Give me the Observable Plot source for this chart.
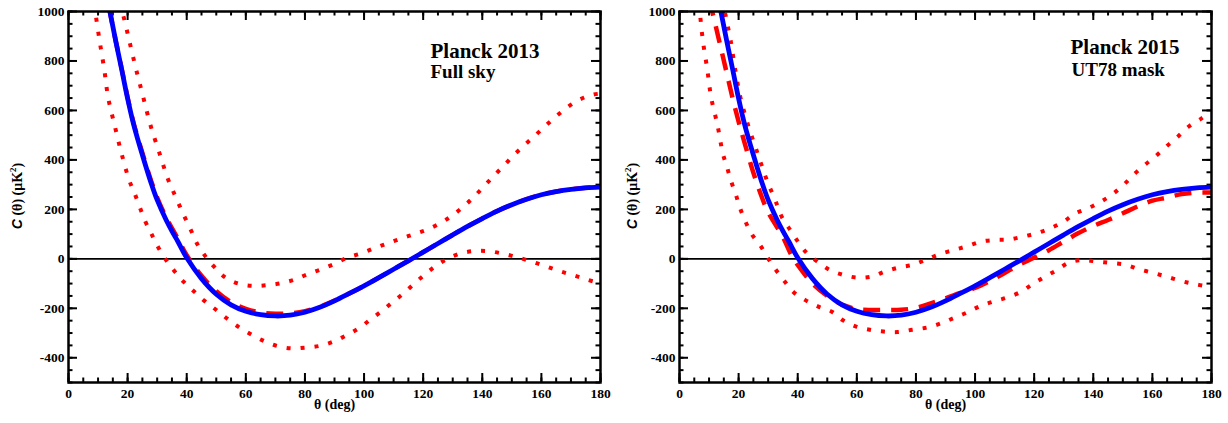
<!DOCTYPE html>
<html><head><meta charset="utf-8">
<script src="https://cdn.jsdelivr.net/npm/d3@7"></script>
<script src="https://cdn.jsdelivr.net/npm/@observablehq/plot@0.6"></script>
<style>
body{margin:0;background:#fff;}
#wrap{position:relative;width:1228px;height:423px;overflow:hidden;}
#p1{position:absolute;left:0;top:0;}
#wrap svg text{font-family:'Liberation Serif','Times New Roman',serif;font-weight:bold;}
.ylab{position:absolute;top:196px;transform:translate(-50%,-50%) rotate(-90deg);white-space:nowrap;
  font-family:'Liberation Serif','Times New Roman',serif;font-weight:bold;font-size:14px;line-height:14px;color:#000;z-index:2;}
.ylab .c{font-family:'Liberation Sans',Arial,sans-serif;font-style:italic;}
.ylab sup{font-size:9px;line-height:0;vertical-align:6px;}
</style></head><body>
<div id="wrap"><div id="p1"></div>
<div class="ylab" id="yl1" style="left:17px"></div>
<div class="ylab" id="yl2" style="left:632px"></div>
</div>
<script>
// ---- data ----
const xTicks = [0,20,40,60,80,100,120,140,160,180];
const yTicks = [-400,-200,0,200,400,600,800,1000];
const panelTitles = ["Planck 2013","Planck 2015"];
const panelSubtitles = ["Full sky","UT78 mask"];
const xLabel = "θ (deg)";
const yLabelHTML = '<span class="c">C</span> (θ) (μK<sup>2</sup>)';

// blue solid (same in both panels)
const theoryTheta = [12,14,16,18,20,22,25,28,30,33,35,37,40,45,50,55,60,65,70,75,80,85,90,95,100,105,110,115,120,125,130,135,140,145,150,155,160,165,170,175,180];
const theoryC = [1130,1000,880,765,648,545,420,305,238,158,112,70,4,-80,-143,-186,-212,-226,-231,-228,-216,-196,-170,-140,-109,-76,-42,-8,27,62,97,131,163,193,219,241,259,272,281,287,290];

// red dashed, Planck 2013
const dashed2013Theta = [12,14,16,18,20,22,25,28,30,33,35,37,40,45,50,55,60,65,70,75,80,85,90,95,100,105,110,115,120,125,130,135,140,145,150,155,160,165,170,175,180];
const dashed2013C = [1130,1000,880,768,652,550,428,314,248,168,124,82,15,-68,-131,-175,-202,-217,-222,-221,-212,-194,-169,-140,-109,-76,-42,-8,27,62,97,131,163,193,219,241,259,272,281,287,290];

// red dashed, Planck 2015
const dashed2015Theta = [10,12,14,16,18,20,22,25,28,30,33,35,38,40,45,50,55,60,65,70,75,80,85,90,95,100,105,110,115,120,125,130,135,140,145,150,155,160,165,170,175,180];
const dashed2015C = [1050,954,852,750,648,555,470,348,245,188,128,88,12,-25,-100,-150,-185,-203,-207,-207,-206,-198,-180,-160,-138,-118,-90,-57,-24,5,35,70,104,133,157,184,212,235,248,262,268,268];

// red dotted bounds, Planck 2013
const upper2013Theta = [16,18.7,20.6,22.9,25.3,27.7,30.7,33.7,35.6,38.5,41.6,43.7,46.4,49.5,53.1,57.4,62.1,66.9,71.7,76.5,81,85.6,90.1,94.4,99,103.5,108,112.5,117.2,121.7,126.2,130.2,134,137.3,140.8,144.2,147.5,150.9,154.5,158.1,161.6,165.2,168.9,173.1,177.5,180];
const upper2013C = [1090,976,880,765,653,542,430,321,268,190,111,57,9,-35,-76,-100,-109,-107,-99,-84,-62,-42,-20,5,22,43,63,82,101,120,147,178,215,252,296,339,379,422,462,501,540,578,614,645,664,668];
const lower2013Theta = [8.5,9.1,10.5,12.1,13.4,15.6,17.9,20.6,22.4,26,28.1,30.2,32.8,35.8,38.9,42.4,46,49.8,53.7,57.5,61.7,66.1,70.5,75.3,80.2,84.9,89.6,93.9,98.2,102.1,105.9,109.7,113.4,117.2,120.8,124.6,128.8,133.3,137.9,142.7,147.6,152.2,156.9,161.5,166.2,170.7,175.5,180];
const lower2013C = [1030,993,883,766,653,540,428,316,264,151,100,50,-1,-49,-92,-131,-170,-205,-242,-275,-305,-332,-352,-362,-359,-352,-335,-310,-281,-246,-212,-175,-139,-98,-61,-26,4,24,32,30,19,5,-12,-30,-50,-66,-84,-100];

// red dotted bounds, Planck 2015
const upper2015Theta = [14.5,16,17.3,18.9,20.6,23.1,26.2,29.4,33,34.7,37.5,40.3,43.2,47.1,51,55.5,60.2,65.1,69.6,74.2,79,83.3,88,92.6,97.3,101.8,106.5,111.4,116.2,121,125.5,129.8,133.8,138.3,142.7,146.6,150.4,153.9,157.6,161.3,164.9,168.6,172.2,176.4,180];
const upper2015C = [1050,960,883,761,653,545,434,323,219,167,116,66,22,-15,-46,-65,-76,-72,-51,-35,-24,-4,19,35,51,69,76,78,90,104,124,149,183,205,232,262,301,343,381,417,456,494,534,566,595];
const lower2015Theta = [6.5,6.9,7.9,9.4,10.7,12.9,14.7,16.1,17.4,19,20.4,22.3,24.6,27.4,29.9,32.7,35.6,38.7,42.6,47,51.4,55.3,59.8,64.4,69.1,73.8,78.7,83.7,88.2,92.7,97.3,101.6,106.1,110.7,115.4,119.4,123.5,127.6,131.8,136.4,141.3,146,151,155.5,160.3,164.8,169.6,174.2,179.2,180];
const lower2015C = [1030,993,883,766,653,538,424,370,316,262,208,151,97,53,3,-46,-92,-136,-167,-193,-213,-248,-274,-287,-294,-296,-287,-278,-262,-240,-217,-192,-173,-157,-134,-103,-73,-46,-15,-5,-11,-17,-24,-42,-57,-72,-89,-102,-113,-115];

// ---- drawing ----
const pts = (T, C) => T.map((t, i) => ({t, c: C[i]}));
const xMinor = d3.range(0, 181, 5);
const yMinor = d3.range(-500, 1001, 50);
const serif = "'Liberation Serif', 'Times New Roman', serif";
const W = 614, H = 423, MT = 11, MB = 41;
const tk = {stroke: "#000", strokeWidth: 2};

function panel(o) {
  const innerW = W - o.ml - o.mr, innerH = H - MT - MB;
  const xt = (data, len) => [
    Plot.tickX(data, {x: d => d, insetTop: innerH - len, ...tk}),
    Plot.tickX(data, {x: d => d, insetBottom: innerH - len, ...tk})
  ];
  const yt = (data, len) => [
    Plot.tickY(data, {y: d => d, insetRight: innerW - len, ...tk}),
    Plot.tickY(data, {y: d => d, insetLeft: innerW - len, ...tk})
  ];
  const dotted = {stroke: "#ff0000", strokeWidth: 4, strokeDasharray: "4,10", strokeLinecap: "butt", curve: "catmull-rom", clip: true};
  return Plot.plot({
    width: W, height: H,
    marginLeft: o.ml, marginRight: o.mr, marginTop: MT, marginBottom: MB,
    style: {fontFamily: serif, background: "#fff", color: "#000"},
    x: {domain: [0, 180]},
    y: {domain: [-500, 1000]},
    marks: [
      ...xt(xMinor, 4.5), ...xt(xTicks, 9),
      ...yt(yMinor, 4.5), ...yt(yTicks, 9),
      Plot.axisX({ticks: xTicks, anchor: "bottom", tickSize: 0, tickPadding: 6, label: null, tickFormat: d => String(d), fontSize: 13.5, fontWeight: "bold", fontFamily: serif}),
      Plot.axisY({ticks: yTicks, anchor: "left", tickSize: 0, tickPadding: 4, label: null, tickFormat: d => String(d), fontSize: 13.5, fontWeight: "bold", fontFamily: serif}),
      Plot.ruleY([0], {stroke: "#000", strokeWidth: 1.8}),
      Plot.line(pts(o.lowerT, o.lowerC), {x: "t", y: "c", ...dotted}),
      Plot.line(pts(o.upperT, o.upperC), {x: "t", y: "c", ...dotted}),
      Plot.line(pts(o.dashT, o.dashC), {x: "t", y: "c", stroke: "#ff0000", strokeWidth: 4.5, strokeDasharray: "17,11", strokeLinecap: "butt", curve: "catmull-rom", clip: true}),
      Plot.line(pts(theoryTheta, theoryC), {x: "t", y: "c", stroke: "#0000ff", strokeWidth: 4.8, curve: "catmull-rom", clip: true}),
      Plot.frame({stroke: "#000", strokeWidth: 2.5}),
      Plot.text([xLabel], {frameAnchor: "bottom", dy: 26.5, fontSize: 14, fontWeight: "bold", fontFamily: serif, fill: "#000"}),
      Plot.text([o.title], {frameAnchor: "top-left", textAnchor: "start", dx: o.tdx, dy: o.tdy, fontSize: 21, fontWeight: "bold", fontFamily: serif, fill: "#000"}),
      Plot.text([o.sub], {frameAnchor: "top-left", textAnchor: "start", dx: o.sdx, dy: o.sdy, fontSize: 19, fontWeight: "bold", fontFamily: serif, fill: "#000"})
    ]
  });
}

const s1 = panel({
  ml: 68, mr: 14,
  dashT: dashed2013Theta, dashC: dashed2013C,
  upperT: upper2013Theta, upperC: upper2013C,
  lowerT: lower2013Theta, lowerC: lower2013C,
  title: panelTitles[0], sub: panelSubtitles[0],
  tdx: 362, tdy: 31.6, sdx: 362, sdy: 52.9
});
const s2 = panel({
  ml: 65, mr: 17,
  dashT: dashed2015Theta, dashC: dashed2015C,
  upperT: upper2015Theta, upperC: upper2015C,
  lowerT: lower2015Theta, lowerC: lower2015C,
  title: panelTitles[1], sub: panelSubtitles[1],
  tdx: 391, tdy: 28, sdx: 392, sdy: 51.2
});
// combine both Plot panels into a single SVG, the second shifted right by one panel width
s1.setAttribute("width", 2 * W);
s1.setAttribute("viewBox", `0 0 ${2 * W} ${H}`);
const shift = document.createElementNS("http://www.w3.org/2000/svg", "g");
shift.setAttribute("transform", `translate(${W},0)`);
Array.from(s2.childNodes).forEach(n => { if (n.nodeName.toLowerCase() !== "style") shift.appendChild(n); });
s1.appendChild(shift);
document.getElementById("p1").appendChild(s1);

document.getElementById("yl1").innerHTML = yLabelHTML;
document.getElementById("yl2").innerHTML = yLabelHTML;
</script>
</body></html>
